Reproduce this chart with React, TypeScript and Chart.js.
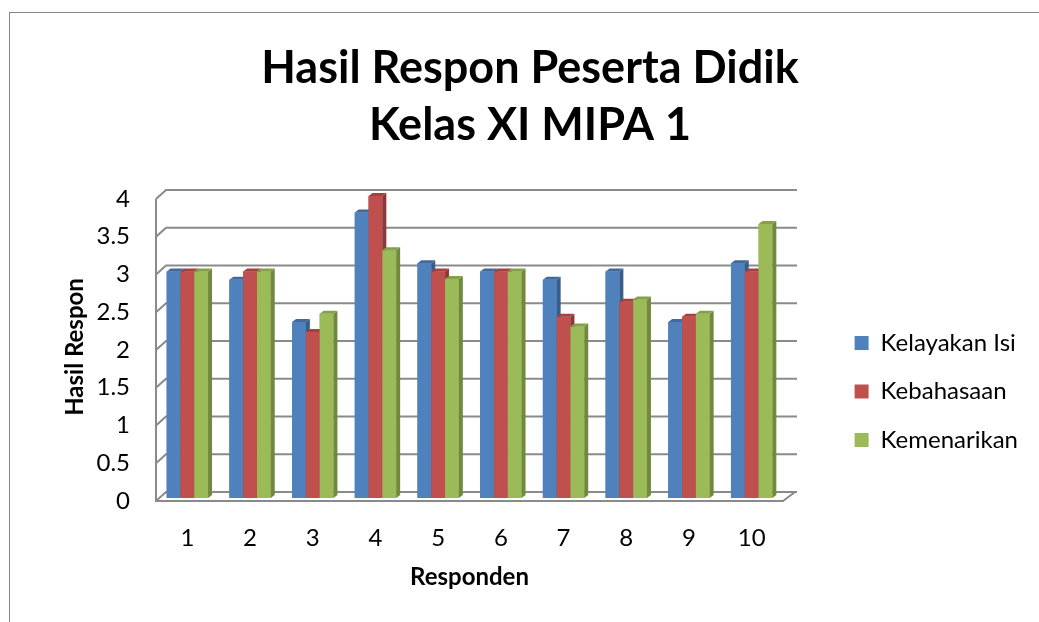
import React, { useEffect, useRef } from "react";
import { Chart, registerables } from "chart.js";

Chart.register(...registerables);

const categories = ["1", "2", "3", "4", "5", "6", "7", "8", "9", "10"];
const kelayakanIsi = [3, 2.89, 2.33, 3.78, 3.11, 3, 2.89, 3, 2.33, 3.11];
const kebahasaan = [3, 3, 2.2, 4, 3, 3, 2.4, 2.6, 2.4, 3];
const kemenarikan = [3, 3, 2.44, 3.28, 2.9, 3, 2.27, 2.63, 2.44, 3.63];
const seriesNames = ["Kelayakan Isi", "Kebahasaan", "Kemenarikan"];
const titleLines = ["Hasil Respon Peserta Didik", "Kelas XI MIPA 1"];
const yTitle = "Hasil Respon";
const xTitle = "Responden";

const FONT = "Lato, 'Open Sans', sans-serif";
const FRONT = ["#4F81BD", "#C0504D", "#9BBB59"];
const SIDE = ["#385D8A", "#8C3836", "#71893F"];
const TOP = ["#41699B", "#A3423F", "#83A04A"];

const PAD_L = 32;
const PAD_R = 11;
const PAD_B = 35;
const PLOT_LEFT = 156;
const PLOT_RIGHT = 783;
const PLOT_BOTTOM = 498;
const DX = 4;
const DY = -3;

const framePlugin = {
  id: "frame",
  beforeDraw(chart: any) {
    const { ctx } = chart;
    ctx.save();
    ctx.fillStyle = "#ffffff";
    ctx.fillRect(0, 0, chart.width, chart.height);
    ctx.strokeStyle = "#868686";
    ctx.lineWidth = 1;
    ctx.strokeRect(9.5, 12.5, 1200, 1000);
    ctx.restore();
  },
};

// let the legend use its natural width instead of the per-box cap
const legendWidthPlugin = {
  id: "legendWidth",
  beforeUpdate(chart: any) {
    const lg = chart.legend;
    if (lg && !lg.__patched) {
      const orig = lg.update;
      lg.update = function (mw: number, mh: number, m: any) {
        return orig.call(this, Math.max(mw, 300), mh, m);
      };
      lg.__patched = true;
    }
  },
};

const wallPlugin = {
  id: "wall3d",
  beforeDatasetsDraw(chart: any) {
    const { ctx, chartArea } = chart;
    const ys = chart.scales.y;
    const L = chartArea.left;
    const R = chartArea.right;
    const bx = 10;
    const by = -6;
    const fy = 3;
    ctx.save();
    ctx.strokeStyle = "#8a8a8a";
    ctx.lineWidth = 2;
    ys.ticks.forEach((t: any) => {
      const py = ys.getPixelForValue(t.value);
      ctx.beginPath();
      ctx.moveTo(L, py + fy);
      ctx.lineTo(L + bx, py + by);
      ctx.lineTo(R + 14, py + by);
      ctx.stroke();
    });
    const top = ys.getPixelForValue(ys.max);
    const bot = ys.getPixelForValue(0);
    ctx.beginPath();
    ctx.moveTo(L, top + fy);
    ctx.lineTo(L, bot + fy);
    ctx.lineTo(R, bot + fy);
    ctx.lineTo(R + 12, bot + by);
    ctx.stroke();
    ctx.restore();
  },
  afterDatasetsDraw(chart: any) {
    const { ctx } = chart;
    ctx.save();
    for (let i = 0; i < chart.data.datasets.length; i++) {
      const meta = chart.getDatasetMeta(i);
      meta.data.forEach((el: any) => {
        el.draw(ctx);
        const { x, y, base, width } = el.getProps(["x", "y", "base", "width"], true);
        const l = x - width / 2;
        const r = x + width / 2;
        ctx.fillStyle = SIDE[i];
        ctx.beginPath();
        ctx.moveTo(r, y);
        ctx.lineTo(r + DX, y + DY);
        ctx.lineTo(r + DX, base + DY);
        ctx.lineTo(r, base);
        ctx.closePath();
        ctx.fill();
        ctx.fillStyle = TOP[i];
        ctx.beginPath();
        ctx.moveTo(l, y);
        ctx.lineTo(l + DX, y + DY);
        ctx.lineTo(r + DX, y + DY);
        ctx.lineTo(r, y);
        ctx.closePath();
        ctx.fill();
      });
    }
    ctx.restore();
  },
};

export default function App() {
  const ref = useRef<HTMLCanvasElement | null>(null);
  useEffect(() => {
    if (!ref.current) return;
    const series = [kelayakanIsi, kebahasaan, kemenarikan];
    const chart = new Chart(ref.current, {
      type: "bar",
      data: {
        labels: categories,
        datasets: series.map((d, i) => ({
          label: seriesNames[i],
          data: d,
          backgroundColor: FRONT[i],
          borderWidth: 0,
          categoryPercentage: 0.66,
          barPercentage: 1,
          yAxisID: "y",
        })),
      },
      options: {
        responsive: false,
        animation: false,
        devicePixelRatio: 1,
        layout: { padding: { left: PAD_L, right: PAD_R, top: 0, bottom: PAD_B } },
        plugins: {
          tooltip: { enabled: false },
          title: {
            display: true,
            text: titleLines,
            color: "#000",
            font: { family: FONT, size: 45, weight: "bold", lineHeight: 57 / 45 },
            padding: { top: 39.5, bottom: 42.5 },
          },
          legend: {
            position: "right",
            title: {
              display: true,
              text: "",
              font: { family: FONT, size: 12, lineHeight: 1 },
              padding: { top: 0, bottom: 184 },
            },
            labels: {
              color: "#000",
              font: { family: FONT, size: 24 },
              boxWidth: 14,
              boxHeight: 14,
              padding: 24.5,
            },
          },
        },
        scales: {
          x: {
            grid: { display: false },
            border: { display: false },
            ticks: { color: "#000", font: { family: FONT, size: 24 }, padding: 18 },
            title: {
              display: true,
              text: xTitle,
              color: "#000",
              font: { family: FONT, size: 24, weight: "bold", lineHeight: 1 },
              padding: { top: 0, bottom: -2 },
            },
            afterFit: (s: any) => {
              s.height = 622 - PAD_B - PLOT_BOTTOM;
            },
          },
          y: {
            min: 0,
            max: 4,
            ticks: {
              stepSize: 0.5,
              color: "#000",
              font: { family: FONT, size: 24 },
              padding: 26,
              labelOffset: 3,
              callback: (v: any) => String(v),
            },
            grid: { display: false, drawTicks: false },
            border: { display: false },
            title: {
              display: true,
              text: yTitle,
              color: "#000",
              font: { family: FONT, size: 24, weight: "bold", lineHeight: 1 },
              padding: { top: 31, bottom: 0 },
            },
            afterFit: (s: any) => {
              s.width = PLOT_LEFT - PAD_L;
            },
          },
          y2: {
            type: "linear",
            position: "right",
            display: true,
            grid: { display: false },
            border: { display: false },
            ticks: { display: false },
            afterFit: (s: any) => {
              const lw = s.chart.legend ? s.chart.legend.width : 190;
              s.width = Math.max(0, 1039 - PAD_R - lw - PLOT_RIGHT);
            },
          },
        },
      },
      plugins: [framePlugin, legendWidthPlugin, wallPlugin],
    } as any);
    return () => chart.destroy();
  }, []);
  return (
    <div style={{ position: "absolute", left: 0, top: 0, width: 1039, height: 622 }}>
      <canvas ref={ref} width={1039} height={622} style={{ display: "block" }} />
    </div>
  );
}
